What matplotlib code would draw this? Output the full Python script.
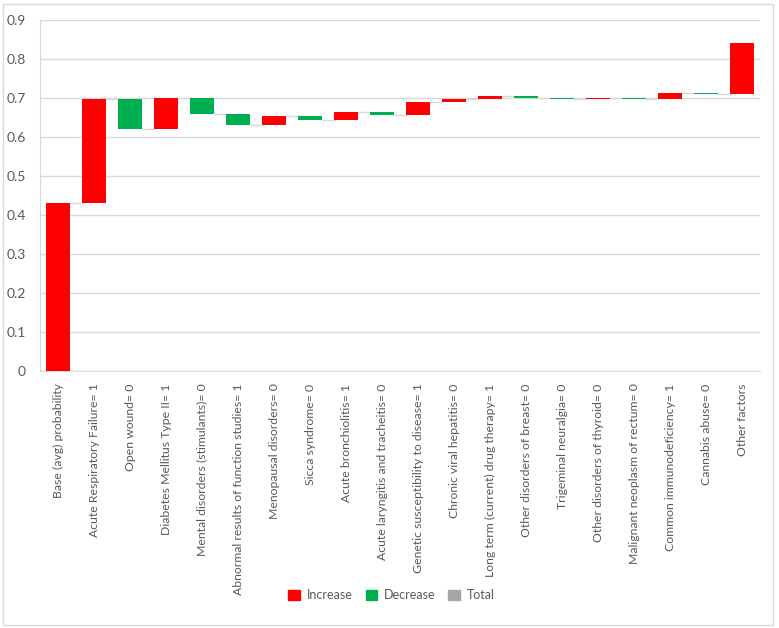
import matplotlib
matplotlib.use("Agg")
import matplotlib.pyplot as plt
from matplotlib.patches import Patch, Rectangle

plt.rcParams['font.family'] = ['Lato', 'DejaVu Sans']

categories = [
    "Base (avg) probability",
    "Acute Respiratory Failure= 1",
    "Open wound= 0",
    "Diabetes Mellitus Type II= 1",
    "Mental disorders (stimulants)= 0",
    "Abnormal results of function studies= 1",
    "Menopausal disorders= 0",
    "Sicca syndrome= 0",
    "Acute bronchiolitis= 1",
    "Acute laryngitis and tracheitis= 0",
    "Genetic susceptibility to disease= 1",
    "Chronic viral hepatitis= 0",
    "Long term (current) drug therapy= 1",
    "Other disorders of breast= 0",
    "Trigeminal neuralgia= 0",
    "Other disorders of thyroid= 0",
    "Malignant neoplasm of rectum= 0",
    "Common immunodeficiency= 1",
    "Cannabis abuse= 0",
    "Other factors",
]
# contributions (first entry is the base probability)
deltas = [0.430, 0.267, -0.077, 0.081, -0.041, -0.028, 0.021, -0.009, 0.020, -0.007,
          0.032, 0.009, 0.007, -0.005, -0.003, 0.003, -0.003, 0.015, -0.003, 0.133]
y_ticks = [0, 0.1, 0.2, 0.3, 0.4, 0.5, 0.6, 0.7, 0.8, 0.9]
y_tick_labels = ["0", "0.1", "0.2", "0.3", "0.4", "0.5", "0.6", "0.7", "0.8", "0.9"]

inc_color = "#FF0000"
dec_color = "#00B050"
tot_color = "#A5A5A5"
grid_color = "#D9D9D9"
text_color = "#595959"

fig = plt.figure(figsize=(7.79, 6.28), dpi=100)
fig.patches.append(Rectangle((0.004, 0.004), 0.988, 0.99, transform=fig.transFigure,
                             fill=False, edgecolor=grid_color, lw=1.0))
ax = fig.add_axes([40/779, 1 - 371/628, 720/779, 351/628])

starts, ends = [], []
cum = 0.0
for d in deltas:
    starts.append(cum)
    cum += d
    ends.append(cum)

width = 0.64
for i, (s, e, d) in enumerate(zip(starts, ends, deltas)):
    color = inc_color if d >= 0 else dec_color
    ax.bar(i, abs(d), bottom=min(s, e), width=width, color=color, zorder=3)

for i in range(len(deltas) - 1):
    ax.plot([i + width/2, i + 1 - width/2], [ends[i], ends[i]], color=grid_color, lw=1.0, zorder=2)

ax.set_xlim(-0.5, len(deltas) - 0.5)
ax.set_ylim(0, 0.9)
ax.set_yticks(y_ticks)
ax.set_yticklabels(y_tick_labels)
ax.set_xticks(range(len(categories)))
ax.set_xticklabels(categories, rotation=90, fontsize=8.8, color=text_color, va='top')
ax.tick_params(axis='y', length=0, labelsize=10, labelcolor=text_color, pad=10)
ax.tick_params(axis='x', length=0, pad=9)
ax.yaxis.grid(True, color=grid_color, lw=1.0, zorder=0)
ax.set_axisbelow(True)
for sp in ['top', 'right']:
    ax.spines[sp].set_visible(False)
ax.spines['left'].set_color(grid_color)
ax.spines['bottom'].set_color(grid_color)

handles = [Patch(color=inc_color, label="Increase"),
           Patch(color=dec_color, label="Decrease"),
           Patch(color=tot_color, label="Total")]
leg = fig.legend(handles=handles, loc='center', bbox_to_anchor=(0.503, 1 - 595/628), ncol=3,
                 frameon=False, fontsize=9, handlelength=0.9, handleheight=0.9,
                 columnspacing=1.0, handletextpad=0.6)
for t in leg.get_texts():
    t.set_color(text_color)

fig.savefig("out.png", dpi=100)
